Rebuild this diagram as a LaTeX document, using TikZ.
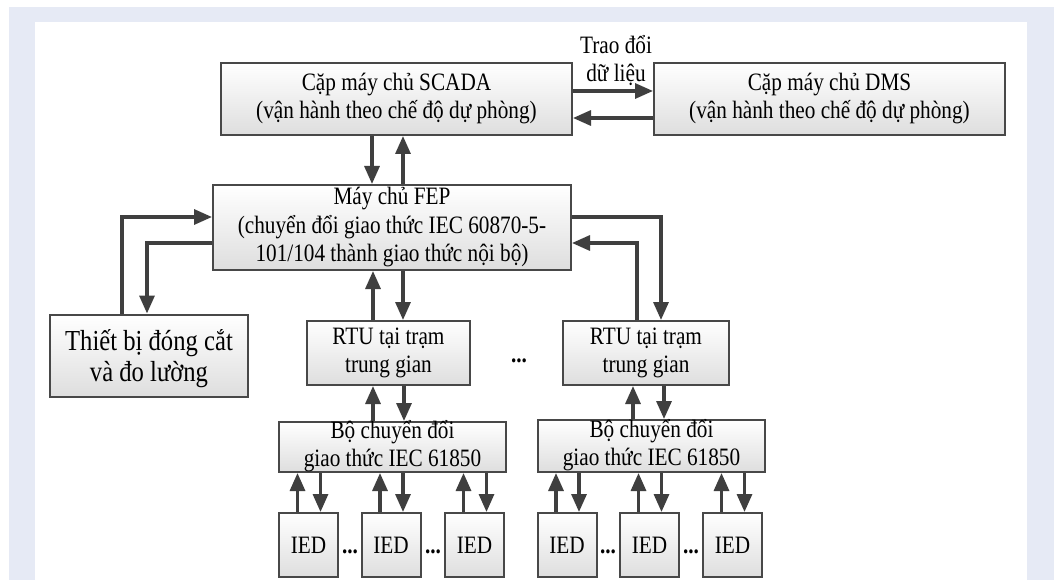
\documentclass[tikz,border=0pt]{standalone}
\usepackage{fontspec}
\setmainfont{Liberation Serif}[FakeStretch=0.85]
\usetikzlibrary{arrows.meta}
\definecolor{bgblue}{HTML}{E6EAF5}
\definecolor{lineg}{HTML}{3F3F3F}
\definecolor{boxline}{HTML}{484848}
\definecolor{boxbot}{HTML}{DEDEDE}
\newcommand\mlines[2][-6.25pt]{\raisebox{#1}[0pt][0pt]{\begin{tabular}{@{}c@{}}#2\end{tabular}}}
\tikzset{
  box/.style={draw=boxline, line width=2pt, top color=white, bottom color=boxbot, inner sep=0pt, align=center},
  arr/.style={draw=lineg, line width=3.2pt, -{Triangle[length=18pt,width=15pt]}},
  dots/.style={font=\fontsize{25}{28.5}\selectfont\bfseries, anchor=base, inner sep=0pt},
}
\begin{document}
\begin{tikzpicture}[x=1pt, y=-1pt, font=\fontsize{25}{28.5}\selectfont]
\useasboundingbox (0,0) rectangle (1057,580);
\fill[white] (0,0) rectangle (1057,580);
\fill[bgblue] (9,7) rectangle (1054,580);
\fill[white] (35,22) rectangle (1027,580);

% boxes
\node[box, minimum width=351pt, minimum height=72pt] (scada) at (396.5,99) {\mlines{Cặp máy chủ SCADA\\(vận hành theo chế độ dự phòng)}};
\node[box, minimum width=351pt, minimum height=72pt] (dms) at (829.5,99) {\mlines{Cặp máy chủ DMS\\(vận hành theo chế độ dự phòng)}};
\node[inner sep=0pt] (trao) at (616,62) {\mlines{Trao đổi\\dữ liệu}};
\node[box, minimum width=358pt, minimum height=85pt] (fep) at (392,227.5) {\mlines{Máy chủ FEP\\(chuyển đổi giao thức IEC 60870-5-\\101/104 thành giao thức nội bộ)}};
\node[box, minimum width=198pt, minimum height=82pt, font=\fontsize{29}{31}\selectfont] (tb) at (149,355.5) {\mlines[-11pt]{Thiết bị đóng cắt\\và đo lường}};
\node[box, minimum width=163pt, minimum height=64pt] (rtu1) at (388.5,353) {\mlines{RTU tại trạm\\trung gian}};
\node[box, minimum width=166pt, minimum height=64pt] (rtu2) at (646,353) {\mlines{RTU tại trạm\\trung gian}};
\node[dots] (rdots) at (519,362) {...};
\node[box, minimum width=227pt, minimum height=50pt] (bo1) at (392.5,447) {\mlines{Bộ chuyển đổi\\giao thức IEC 61850}};
\node[box, minimum width=227pt, minimum height=52pt] (bo2) at (651.5,446) {\mlines{Bộ chuyển đổi\\giao thức IEC 61850}};

% helper coordinates
\coordinate (y91) at (0,91);
\coordinate (y118) at (0,118);
\coordinate (y217) at (0,217);
\coordinate (y243) at (0,243);
\coordinate (x372) at (372,0);
\coordinate (x403) at (403,0);
\coordinate (x122) at (122,0);
\coordinate (x147) at (147,0);
\coordinate (x373) at (373,0);
\coordinate (x404) at (404,0);
\coordinate (x637) at (637,0);
\coordinate (x661) at (661,0);
\coordinate (x633) at (633,0);
\coordinate (x664) at (664,0);

% connectors
\draw[arr] (scada.east |- y91) -- (dms.west |- y91);
\draw[arr] (dms.west |- y118) -- (scada.east |- y118);
\draw[arr] (scada.south -| x372) -- (fep.north -| x372);
\draw[arr] (fep.north -| x403) -- (scada.south -| x403);
\draw[arr] (tb.north -| x122) |- (fep.west |- y217);
\draw[arr] (fep.west |- y243) -| (tb.north -| x147);
\draw[arr] (rtu1.north -| x373) -- (fep.south -| x373);
\draw[arr] (fep.south -| x403) -- (rtu1.north -| x403);
\draw[arr] (fep.east |- y217) -| (rtu2.north -| x661);
\draw[arr] (rtu2.north -| x637) |- (fep.east |- y243);
\draw[arr] (bo1.north -| x373) -- (rtu1.south -| x373);
\draw[arr] (rtu1.south -| x404) -- (bo1.north -| x404);
\draw[arr] (bo2.north -| x633) -- (rtu2.south -| x633);
\draw[arr] (rtu2.south -| x664) -- (bo2.north -| x664);

% IEDs
\foreach \n/\cx/\b in {i1/308.5/bo1, i2/391/bo1, i3/474.5/bo1, i4/567/bo2, i5/649.5/bo2, i6/732.5/bo2} {
  \node[box, minimum width=59pt, minimum height=64pt] (\n) at (\cx,545) {IED};
  \coordinate (u\n) at (\cx-11,0);
  \coordinate (d\n) at (\cx+12,0);
  \draw[arr] (\n.north -| u\n) -- (\b.south -| u\n);
  \draw[arr] (\b.south -| d\n) -- (\n.north -| d\n);
}
\node[dots] (d1) at (350,553) {...};
\node[dots] (d2) at (433,553) {...};
\node[dots] (d3) at (608,553) {...};
\node[dots] (d4) at (691,553) {...};
\end{tikzpicture}
\end{document}
